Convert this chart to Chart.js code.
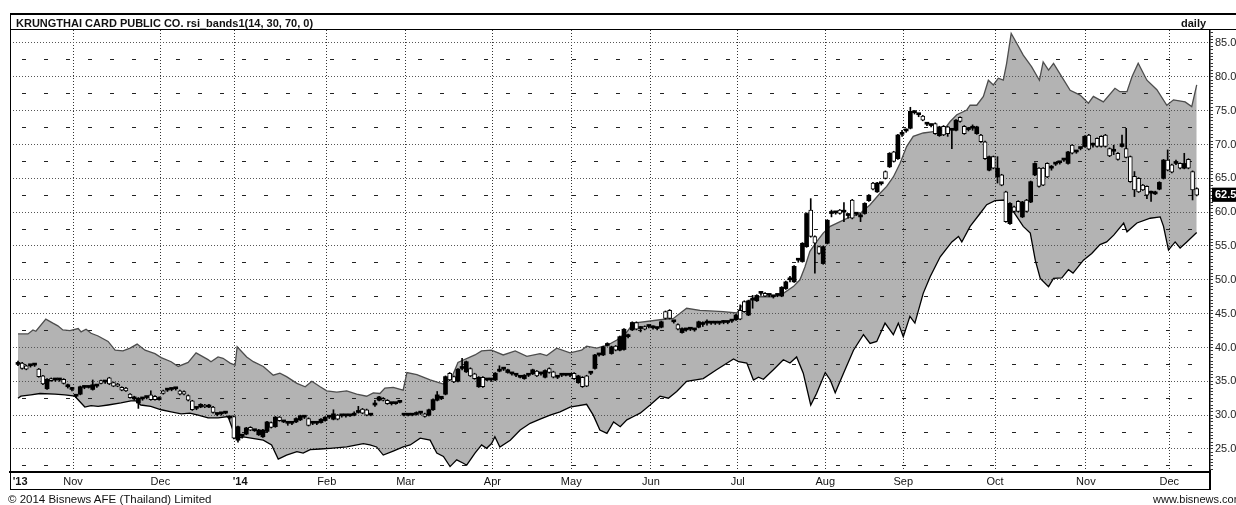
<!DOCTYPE html>
<html>
<head>
<meta charset="utf-8">
<script src="https://cdn.jsdelivr.net/npm/chart.js@4/dist/chart.umd.min.js"></script>
<style>
    body { margin: 0; background: #fff; font-family: "Liberation Sans", Arial, sans-serif; }
    #wrap { position: relative; width: 1236px; height: 505px; overflow: hidden; }
    #rsiChart { position: absolute; left: 0; top: 0; }
    .ln { position: absolute; background: #000; }
    .txt { position: absolute; font-size: 11px; line-height: 14px; color: #111; white-space: nowrap; }
</style>
</head>
<body>
<div id="wrap">
    <canvas id="rsiChart" width="1236" height="505"></canvas>
    <div class="ln" style="left:10px;top:13px;width:1226px;height:2px"></div>
    <div class="ln" style="left:10px;top:13px;width:1px;height:477px"></div>
    <div class="ln" style="left:10px;top:29px;width:1226px;height:1px"></div>
    <div class="ln" style="left:10px;top:489px;width:1201px;height:1px"></div>
    <div class="ln" style="left:1209px;top:470px;width:2px;height:20px"></div>
    <div class="txt" style="left:16px;top:16px;font-weight:bold">KRUNGTHAI CARD PUBLIC CO. rsi_bands1(14, 30, 70, 0)</div>
    <div class="txt" style="left:1181px;top:16px;font-weight:bold">daily</div>
    <div class="txt" style="left:8px;top:492px;font-size:11.5px">© 2014 Bisnews AFE (Thailand) Limited</div>
    <div class="txt" style="left:1153px;top:492px;font-size:11px">www.bisnews.com</div>
</div>
<script>
// month grid positions, in trading-day index
const monthTickPos = [0.5, 13.25, 34.3, 52.05, 74.4, 93.4, 114.3, 133.3, 152.5, 173.4, 194.5, 213.3, 235.4, 257.3, 277.4];
const monthTickLabels = ["'13", 'Nov', 'Dec', "    '14", 'Feb', 'Mar', 'Apr', 'May', 'Jun', 'Jul', 'Aug', 'Sep', 'Oct', 'Nov', 'Dec'];

const yMin = 21.6;
const yMax = 86.92;
const lastPrice = 62.5;

// rsi band, upper edge
const upperDays = [0, 2.4, 3.6, 4.3, 6.7, 8.4, 9.6, 10.8, 12.5, 14.5, 15.2, 16.4, 17.6, 19.3, 21.7, 23.4, 25.3, 27.0, 28.7, 30.6,
    33.0, 34.5, 36.9, 38.6, 41.0, 42.9, 45.8, 46.5, 48.2, 49.4, 51.1, 52.3, 52.8, 55.1, 56.7, 59.1, 61.5, 63.1, 64.7, 67.2,
    69.2, 70.8, 72.8, 74.4, 76.8, 79.2, 81.6, 84.0, 85.6, 87.2, 88.4, 90.4, 92.8, 93.7, 96.1, 99.3, 102.5, 104.8, 106.0, 110.1,
    111.7, 114.1, 116.9, 119.8, 122.6, 125.8, 127.4, 129.8, 133.0, 135.8, 137.0, 139.4, 141.9, 144.3, 146.7, 148.3, 154.7, 157.9, 161.1, 164.3,
    166.7, 169.9, 173.2, 174.8, 178.0, 182.0, 184.4, 186.8, 188.4, 189.6, 190.8, 192.4, 194.0, 195.7, 198.1, 200.5, 202.9, 205.3, 207.7, 209.3,
    210.9, 212.5, 214.1, 215.7, 218.1, 220.6, 223.0, 224.6, 226.2, 228.6, 229.4, 231.0, 232.6, 233.8, 235.0, 236.2, 237.4, 238.2, 239.3, 240.6,
    242.2, 244.2, 246.1, 247.0, 248.3, 249.5, 251.5, 253.5, 255.9, 257.9, 259.1, 261.5, 264.3, 265.5, 267.2, 268.4, 269.9, 272.0, 274.4, 276.8,
    278.4, 281.2, 282.8, 284];
const upperVals = [42.0, 42.0, 42.6, 42.4, 44.2, 43.6, 43.2, 42.6, 42.5, 42.8, 42.3, 42.7, 42.1, 41.7, 40.9, 39.6, 39.5, 39.9, 40.5, 39.6,
    39.1, 38.5, 37.9, 37.2, 37.8, 39.2, 38.2, 37.9, 38.6, 38.4, 37.7, 37.4, 40.1, 38.6, 37.9, 37.2, 35.9, 36.2, 35.7, 34.7,
    34.2, 35.0, 34.2, 33.6, 33.4, 33.6, 33.1, 32.8, 33.3, 33.2, 34.0, 34.1, 33.7, 36.3, 36.0, 35.2, 34.6, 36.0, 37.8, 38.9,
    39.5, 39.6, 38.9, 39.5, 38.7, 39.1, 38.8, 39.9, 39.2, 39.6, 40.2, 39.9, 40.3, 41.1, 42.3, 43.6, 44.1, 44.3, 45.8, 45.5,
    45.4, 45.3, 45.1, 46.5, 47.5, 47.5, 48.0, 49.0, 50.0, 51.9, 54.2, 55.6, 56.9, 57.9, 58.6, 59.3, 59.8, 61.1, 62.8, 63.8,
    65.2, 67.2, 69.7, 71.2, 71.7, 71.9, 72.1, 73.4, 74.4, 75.1, 75.8, 75.8, 77.1, 79.5, 78.8, 79.8, 79.5, 82.0, 86.4, 85.0,
    83.2, 81.5, 79.5, 82.2, 81.0, 82.0, 80.0, 78.0, 77.3, 76.1, 77.1, 76.3, 78.3, 77.8, 77.8, 80.0, 82.0, 79.5, 78.1, 75.8,
    76.6, 76.3, 75.6, 78.8];

// rsi band, lower edge
const lowerDays = [0, 0.7, 3.1, 5.3, 8.9, 11.3, 13.7, 16.1, 17.6, 19.3, 21.7, 24.8, 27.2, 28.4, 29.6, 32.0, 34.5, 36.9, 39.3, 41.4,
    43.4, 45.8, 48.2, 50.6, 52.5, 54.3, 59.1, 61.1, 62.7, 64.7, 67.2, 68.7, 70.4, 72.8, 75.2, 79.2, 83.2, 84.8, 86.4, 88.0,
    90.4, 92.8, 94.5, 96.9, 99.3, 100.9, 102.5, 104.1, 105.7, 107.3, 108.1, 110.1, 111.7, 112.9, 114.1, 114.9, 116.1, 118.6, 121.0, 123.4,
    125.8, 128.2, 130.6, 133.0, 137.0, 138.6, 140.2, 141.9, 143.5, 145.1, 146.7, 148.3, 149.9, 152.3, 154.7, 156.7, 158.7, 161.1, 165.1, 168.3,
    172.4, 173.6, 175.6, 177.2, 178.4, 179.6, 182.0, 184.4, 186.0, 187.6, 189.2, 191.0, 192.4, 194.5, 195.7, 196.9, 198.9, 201.3, 203.7, 205.3,
    206.9, 208.9, 210.9, 212.1, 213.3, 214.9, 216.1, 218.1, 219.8, 222.2, 225.0, 226.6, 227.4, 229.4, 231.8, 233.4, 235.4, 237.8, 239.8, 242.2,
    243.9, 245.1, 246.3, 248.3, 249.5, 251.5, 253.1, 254.2, 256.7, 258.7, 260.7, 262.3, 264.0, 266.4, 267.2, 269.6, 272.8, 275.2, 276.0, 277.2,
    278.8, 280.0, 281.6, 284];
const lowerVals = [32.5, 32.8, 33.0, 33.2, 33.1, 33.0, 32.8, 31.2, 31.4, 31.3, 31.5, 31.8, 32.1, 32.1, 31.5, 31.3, 30.8, 30.5, 30.2, 30.3,
    30.0, 29.6, 29.6, 29.8, 26.6, 26.8, 26.3, 25.6, 23.5, 24.1, 24.6, 24.4, 24.9, 25.0, 25.1, 25.3, 25.8, 25.6, 25.3, 24.1,
    24.7, 25.3, 25.6, 26.6, 26.3, 24.4, 23.9, 22.4, 23.4, 22.9, 22.6, 24.4, 25.6, 25.1, 25.8, 26.8, 25.3, 26.3, 27.8, 28.8,
    29.4, 30.0, 30.5, 31.2, 31.6, 30.0, 27.8, 27.3, 29.0, 28.3, 29.3, 29.8, 30.3, 31.5, 32.8, 32.5, 33.5, 35.0, 35.4, 36.7,
    38.3, 37.9, 37.7, 35.2, 35.6, 35.3, 36.7, 38.2, 37.7, 38.6, 36.2, 31.5, 33.2, 36.3, 35.2, 33.3, 36.2, 39.6, 41.9, 40.6,
    40.9, 43.6, 41.9, 43.6, 41.6, 44.6, 43.6, 48.0, 50.5, 53.4, 55.6, 56.4, 55.6, 57.9, 59.8, 61.1, 61.7, 61.8, 60.1, 57.9,
    56.9, 52.9, 50.2, 49.0, 50.2, 50.3, 51.5, 51.0, 52.9, 53.9, 55.2, 55.6, 56.6, 58.4, 57.1, 58.4, 59.1, 59.3, 57.9, 54.4,
    55.6, 54.7, 55.6, 57.0];

// daily candles, one per trading day
const opens = [37.8, 36.9, 36.8, 37.3, 37.4, 35.7, 34.6, 35.3, 35.1, 35.2, 35.2, 34.7, 34.5, 34.0, 32.8, 34.2, 34.1, 34.2, 34.5, 34.3,
    34.7, 34.9, 34.6, 34.3, 34.3, 33.7, 33.6, 32.6, 32.7, 32.5, 32.4, 32.6, 32.3, 32.3, 32.6, 33.2, 33.7, 33.8, 33.9, 33.1,
    33.1, 32.2, 30.8, 31.0, 31.6, 31.2, 31.5, 30.4, 30.1, 30.2, 30.3, 29.6, 26.6, 28.3, 26.9, 28.1, 27.8, 27.7, 27.8, 27.8,
    29.0, 28.2, 29.7, 29.2, 29.0, 28.8, 28.8, 29.5, 29.9, 29.7, 28.5, 28.8, 28.8, 29.4, 29.7, 29.7, 30.2, 29.4, 29.9, 29.9,
    29.9, 30.0, 30.4, 30.3, 30.0, 30.0, 31.5, 32.7, 32.2, 31.7, 31.7, 31.7, 32.1, 30.0, 30.0, 30.0, 30.1, 30.3, 29.8, 30.8,
    32.3, 33.0, 32.5, 35.7, 35.2, 34.9, 36.8, 36.9, 37.9, 35.8, 35.4, 35.6, 34.2, 35.2, 35.2, 36.2, 36.5, 36.8, 36.7, 36.1,
    35.9, 35.6, 35.9, 35.9, 36.7, 35.8, 36.1, 36.6, 36.3, 35.6, 35.6, 35.9, 35.9, 35.9, 35.4, 35.8, 34.2, 34.3, 36.2, 38.9,
    38.9, 40.1, 40.3, 40.1, 39.6, 41.6, 42.7, 41.6, 43.7, 42.7, 42.8, 42.7, 43.1, 42.9, 42.8, 43.8, 44.3, 44.3, 43.8, 42.7,
    42.8, 42.6, 42.7, 42.6, 43.8, 43.4, 43.6, 43.6, 43.6, 43.6, 43.7, 43.7, 43.9, 44.8, 44.2, 45.3, 46.9, 47.0, 47.7, 48.0,
    47.6, 47.7, 47.5, 47.7, 48.9, 49.7, 50.0, 52.0, 52.9, 55.4, 59.8, 56.4, 55.4, 53.9, 54.9, 58.8, 59.8, 59.9, 59.8, 60.0,
    59.5, 59.1, 59.7, 59.3, 61.3, 62.5, 63.4, 64.3, 64.2, 65.0, 68.7, 67.5, 71.4, 71.5, 72.0, 74.9, 74.7, 74.4, 73.6, 73.0,
    72.8, 71.6, 72.6, 71.4, 71.6, 72.1, 73.6, 73.4, 71.6, 72.2, 72.4, 72.6, 70.4, 67.9, 68.2, 66.5, 66.5, 64.0, 58.6, 61.3,
    60.1, 60.1, 61.5, 60.1, 64.5, 67.2, 63.8, 64.0, 65.2, 66.5, 67.1, 67.3, 67.7, 68.9, 68.7, 68.9, 69.4, 71.2, 69.3, 69.9,
    69.7, 69.7, 69.7, 68.3, 69.0, 67.8, 70.1, 68.1, 64.5, 63.3, 63.0, 63.3, 62.5, 63.0, 63.0, 64.4, 67.7, 66.2, 65.9, 67.2,
    66.5, 67.2, 66.5, 63.3, 62.5];
const closes = [37.5, 37.7, 37.3, 37.3, 37.4, 36.8, 35.8, 33.9, 35.4, 35.2, 35.2, 35.3, 34.2, 33.8, 32.8, 33.1, 34.1, 34.1, 33.8, 34.3,
    35.1, 34.9, 35.5, 34.8, 34.6, 34.1, 34.0, 33.1, 32.4, 31.8, 32.4, 32.6, 33.0, 32.8, 32.3, 33.6, 33.7, 33.8, 33.9, 33.6,
    33.5, 32.9, 32.1, 31.0, 31.2, 31.5, 31.2, 31.2, 30.1, 30.2, 30.3, 29.6, 29.8, 26.3, 26.9, 27.2, 28.2, 27.7, 27.1, 26.8,
    27.6, 28.9, 28.3, 29.7, 29.0, 28.8, 28.8, 29.0, 29.3, 29.7, 29.5, 28.8, 28.8, 28.9, 29.2, 29.7, 29.4, 30.0, 29.9, 29.9,
    29.9, 30.0, 30.4, 30.9, 30.8, 30.0, 31.5, 32.2, 32.5, 32.2, 31.7, 31.7, 31.9, 30.0, 30.0, 30.0, 30.1, 30.3, 30.2, 30.0,
    30.8, 32.2, 32.5, 33.1, 36.2, 35.7, 35.0, 36.9, 36.4, 36.9, 36.1, 34.2, 35.6, 35.2, 35.2, 35.2, 36.5, 36.8, 36.3, 36.1,
    35.9, 35.6, 35.4, 35.9, 36.1, 36.5, 36.1, 35.6, 36.9, 36.4, 35.6, 35.9, 35.9, 35.9, 36.2, 34.8, 35.6, 35.8, 36.2, 36.9,
    38.9, 38.9, 40.3, 39.1, 40.2, 39.6, 39.7, 41.6, 42.6, 43.7, 42.8, 43.1, 43.1, 42.9, 42.8, 43.0, 45.3, 45.5, 43.8, 43.4,
    42.2, 42.6, 42.7, 42.6, 43.0, 43.4, 43.6, 43.6, 43.6, 43.6, 43.7, 43.7, 43.9, 44.1, 45.5, 46.8, 44.8, 47.0, 46.9, 48.0,
    48.0, 47.7, 47.5, 47.7, 47.6, 48.7, 50.0, 49.7, 52.9, 52.7, 54.9, 60.3, 56.4, 54.9, 52.4, 55.4, 59.8, 59.9, 60.3, 60.0,
    59.5, 61.8, 59.7, 59.3, 59.8, 61.7, 64.3, 63.0, 64.2, 66.0, 66.7, 68.9, 67.9, 71.5, 72.0, 72.4, 74.7, 74.4, 74.2, 73.0,
    72.8, 73.1, 71.3, 72.7, 72.6, 72.1, 72.1, 74.0, 72.7, 72.2, 72.4, 71.6, 71.4, 70.4, 66.2, 68.2, 65.2, 65.5, 63.0, 58.3,
    60.8, 61.6, 59.3, 61.8, 61.5, 65.5, 66.5, 66.5, 67.2, 66.5, 67.1, 67.3, 67.7, 67.2, 69.9, 68.9, 69.4, 69.7, 71.4, 69.9,
    70.9, 71.2, 71.4, 69.4, 69.0, 68.7, 69.7, 69.4, 68.2, 65.3, 65.0, 64.0, 63.8, 62.8, 62.7, 63.4, 65.0, 67.7, 67.0, 67.2,
    67.2, 66.5, 67.8, 66.0, 63.5];
const highs = [38.0, 37.8, 37.4, 37.5, 37.6, 36.9, 35.9, 35.4, 35.5, 35.4, 35.3, 35.4, 34.6, 34.1, 33.0, 34.3, 34.3, 34.3, 35.2, 34.5,
    35.2, 35.1, 35.6, 34.9, 34.7, 34.2, 34.1, 33.2, 32.8, 32.6, 32.6, 32.8, 33.6, 32.9, 32.7, 33.7, 33.9, 34.0, 34.0, 33.7,
    33.6, 33.0, 32.2, 31.2, 31.7, 31.6, 31.6, 31.3, 30.3, 30.4, 30.5, 29.8, 29.9, 28.4, 27.1, 28.2, 28.3, 27.9, 27.9, 27.9,
    29.1, 29.0, 29.8, 29.8, 29.2, 29.0, 29.0, 29.6, 30.0, 29.9, 29.6, 29.0, 29.0, 29.5, 29.8, 29.9, 30.8, 30.1, 30.1, 30.0,
    30.1, 30.5, 31.3, 31.0, 30.9, 30.2, 32.2, 32.8, 32.6, 32.3, 31.9, 31.9, 32.2, 30.2, 30.2, 30.1, 30.5, 30.4, 30.3, 30.9,
    32.4, 33.5, 32.7, 35.8, 36.3, 35.8, 36.9, 38.4, 38.0, 37.0, 36.2, 35.7, 35.7, 35.4, 35.3, 36.3, 37.3, 37.0, 36.8, 36.3,
    36.0, 35.8, 36.0, 36.1, 36.8, 36.6, 36.3, 36.7, 37.0, 36.5, 35.8, 36.1, 36.0, 36.1, 36.3, 35.9, 35.7, 35.9, 36.4, 39.0,
    39.1, 40.2, 40.7, 40.2, 40.3, 41.7, 42.8, 42.0, 43.8, 43.8, 43.1, 43.2, 43.3, 43.2, 43.0, 43.9, 45.4, 45.6, 44.0, 43.5,
    42.9, 42.8, 42.9, 42.8, 43.9, 43.8, 44.1, 43.8, 43.8, 43.8, 44.0, 43.9, 44.1, 44.9, 46.3, 46.9, 47.0, 47.7, 47.8, 48.2,
    48.1, 47.9, 47.7, 47.9, 49.0, 49.8, 50.5, 52.1, 53.1, 55.5, 59.9, 62.0, 56.5, 55.0, 55.0, 58.9, 60.3, 60.1, 60.4, 61.4,
    59.8, 61.9, 59.9, 59.8, 61.4, 62.6, 64.4, 64.4, 64.4, 66.1, 68.8, 69.0, 71.5, 72.1, 72.3, 75.5, 75.0, 74.6, 74.3, 73.2,
    73.0, 73.2, 72.7, 72.8, 72.7, 72.3, 73.7, 74.1, 72.8, 72.4, 72.9, 72.7, 71.5, 70.5, 68.3, 68.3, 68.2, 65.6, 63.1, 61.4,
    60.9, 61.7, 61.6, 61.9, 64.6, 67.3, 66.6, 66.6, 67.3, 66.9, 67.3, 67.5, 67.9, 69.0, 70.0, 69.1, 69.6, 71.3, 71.5, 70.2,
    71.0, 71.3, 71.5, 69.5, 69.9, 68.8, 71.4, 72.4, 68.3, 66.0, 65.1, 64.1, 63.9, 63.1, 63.1, 64.5, 67.8, 69.2, 67.1, 67.7,
    67.3, 68.7, 67.9, 66.1, 63.6];
const lows = [37.3, 36.8, 36.7, 37.1, 37.2, 35.6, 34.5, 33.8, 35.0, 35.0, 35.0, 34.6, 34.0, 33.6, 32.6, 33.0, 33.9, 34.0, 33.7, 34.1,
    34.6, 34.7, 34.5, 34.2, 34.2, 33.6, 33.5, 32.5, 32.2, 31.0, 32.2, 32.4, 32.2, 32.2, 32.2, 33.1, 33.5, 33.6, 33.7, 33.0,
    33.0, 32.1, 30.7, 30.8, 31.1, 31.1, 31.1, 30.3, 29.9, 30.0, 30.2, 29.4, 26.5, 26.0, 26.6, 27.1, 27.7, 27.6, 27.0, 26.7,
    27.5, 28.1, 28.2, 29.1, 28.9, 28.5, 28.6, 28.9, 29.2, 29.5, 28.4, 28.6, 28.6, 28.8, 29.1, 29.5, 29.3, 29.3, 29.7, 29.7,
    29.8, 29.9, 30.3, 30.2, 29.9, 29.9, 31.3, 32.1, 32.1, 31.6, 31.5, 31.6, 31.8, 29.9, 29.9, 29.9, 30.0, 30.1, 29.7, 29.9,
    30.7, 32.1, 32.3, 33.0, 35.1, 34.8, 34.9, 36.7, 36.3, 35.7, 35.3, 34.1, 34.1, 35.1, 35.0, 35.1, 36.4, 36.6, 36.2, 35.9,
    35.7, 35.5, 35.3, 35.7, 36.0, 35.7, 35.9, 35.5, 36.2, 35.5, 35.4, 35.7, 35.8, 35.7, 35.3, 34.7, 34.1, 34.2, 36.0, 36.8,
    38.7, 38.8, 40.2, 39.0, 39.5, 39.5, 39.6, 41.4, 42.5, 42.6, 42.3, 42.6, 42.9, 42.7, 42.6, 42.9, 44.2, 44.2, 43.6, 42.6,
    42.1, 42.4, 42.5, 42.4, 42.9, 43.1, 43.3, 43.4, 43.4, 43.4, 43.5, 43.5, 43.7, 44.0, 44.1, 45.2, 44.7, 45.8, 46.8, 47.7,
    47.5, 47.5, 47.3, 47.5, 47.5, 48.6, 49.7, 49.6, 52.6, 52.6, 54.8, 56.3, 51.0, 53.8, 52.3, 55.3, 59.3, 59.7, 59.7, 58.6,
    59.1, 59.0, 59.5, 58.6, 59.7, 61.6, 63.3, 62.9, 64.0, 64.9, 66.6, 67.4, 67.8, 71.2, 71.8, 72.3, 74.5, 74.1, 73.5, 72.8,
    72.6, 71.5, 71.2, 71.3, 71.2, 69.4, 72.0, 73.3, 71.5, 72.0, 72.1, 71.5, 70.3, 67.8, 66.1, 66.4, 64.3, 63.9, 58.5, 58.2,
    60.0, 60.0, 59.2, 60.0, 61.4, 65.4, 63.7, 63.9, 65.1, 66.2, 66.9, 67.1, 67.5, 67.1, 68.6, 68.7, 69.2, 69.6, 69.2, 69.6,
    69.6, 69.6, 69.6, 68.2, 68.5, 67.7, 69.6, 68.0, 64.4, 62.3, 62.9, 63.2, 62.0, 61.6, 62.6, 63.3, 64.9, 66.1, 65.8, 67.0,
    66.4, 66.4, 66.4, 61.8, 62.4];

const FONT = '"Liberation Sans", Arial, sans-serif';

function isHollow(i) {
    return closes[i] - opens[i] > 0.15;
}

document.addEventListener('DOMContentLoaded', function () {
    const ctx = document.getElementById('rsiChart');

    const yTicks = [];
    for (let k = 44; k <= 173; k++) yTicks.push(k / 2);

    const config = {
        type: 'bar',
        data: {
            datasets: [
                {
                    type: 'line',
                    label: 'upper',
                    order: 3,
                    data: upperDays.map((d, i) => ({ x: d, y: upperVals[i] })),
                    borderColor: '#4d4d4d',
                    borderWidth: 1.3,
                    backgroundColor: '#b3b3b3',
                    fill: '+1',
                    pointRadius: 0,
                    tension: 0
                },
                {
                    type: 'line',
                    label: 'lower',
                    order: 2,
                    data: lowerDays.map((d, i) => ({ x: d, y: lowerVals[i] })),
                    borderColor: '#000',
                    borderWidth: 1.3,
                    fill: false,
                    pointRadius: 0,
                    tension: 0
                },
                {
                    label: 'wick',
                    order: 1,
                    data: lows.map((l, i) => ({ x: i, y: [l, highs[i]] })),
                    barThickness: 1,
                    grouped: false,
                    backgroundColor: '#000',
                    borderWidth: 0
                },
                {
                    label: 'body',
                    order: 0,
                    data: opens.map((o, i) => ({ x: i, y: [o, closes[i]] })),
                    barThickness: 4,
                    minBarLength: 2,
                    grouped: false,
                    borderSkipped: false,
                    borderColor: '#000',
                    borderWidth: function (c) {
                        return c.dataIndex !== undefined && isHollow(c.dataIndex) ? 1 : 0;
                    },
                    backgroundColor: function (c) {
                        return c.dataIndex !== undefined && isHollow(c.dataIndex) ? '#fff' : '#000';
                    }
                }
            ]
        },
        options: {
            responsive: false,
            animation: false,
            events: [],
            layout: {
                padding: { left: 10, top: 30, right: 0, bottom: 15 }
            },
            plugins: {
                legend: { display: false },
                tooltip: { enabled: false },
                filler: { drawTime: 'beforeDraw' }
            },
            scales: {
                x: {
                    type: 'linear',
                    min: -1.93,
                    max: 287.2,
                    offset: false,
                    afterBuildTicks: function (scale) {
                        scale.ticks = monthTickPos.map(v => ({ value: v }));
                    },
                    afterFit: function (scale) {
                        scale.height = 18;
                    },
                    grid: {
                        offset: false,
                        drawTicks: false,
                        lineWidth: 1,
                        color: function (c) {
                            return c.index === 0 ? 'rgba(0,0,0,0)' : '#333';
                        }
                    },
                    border: {
                        display: true,
                        color: '#000',
                        width: 2,
                        dash: [1, 2]
                    },
                    ticks: {
                        autoSkip: false,
                        maxRotation: 0,
                        padding: 3,
                        color: '#111',
                        font: function (c) {
                            const lbl = monthTickLabels[c.index] || '';
                            return { family: FONT, size: 11, weight: lbl.indexOf("'") >= 0 ? 'bold' : 'normal' };
                        },
                        callback: function (value, index) {
                            return monthTickLabels[index];
                        }
                    }
                },
                y: {
                    type: 'linear',
                    position: 'right',
                    min: yMin,
                    max: yMax,
                    afterBuildTicks: function (scale) {
                        scale.ticks = yTicks.map(v => ({ value: v }));
                    },
                    afterFit: function (scale) {
                        scale.width = 26;
                    },
                    grid: {
                        drawTicks: true,
                        tickLength: 3,
                        tickWidth: 1,
                        tickColor: '#333',
                        lineWidth: 1,
                        color: function (c) {
                            const v = c.tick ? c.tick.value : 0;
                            if (v % 5 === 0) return '#555';
                            if (v % 2.5 === 0) return '#222';
                            return 'rgba(0,0,0,0)';
                        }
                    },
                    border: {
                        display: true,
                        color: '#000',
                        width: 1.5,
                        dash: function (c) {
                            return c.tick && c.tick.value % 5 === 0 ? [1, 2] : [4, 18];
                        },
                        dashOffset: function (c) {
                            return c.tick && c.tick.value % 5 === 0 ? 0 : 10;
                        }
                    },
                    ticks: {
                        autoSkip: false,
                        padding: 2,
                        color: function (c) {
                            return c.tick && c.tick.value === lastPrice ? '#fff' : '#222';
                        },
                        font: function (c) {
                            const last = c.tick && c.tick.value === lastPrice;
                            return { family: FONT, size: 11, weight: last ? 'bold' : 'normal' };
                        },
                        showLabelBackdrop: function (c) {
                            return !!(c.tick && c.tick.value === lastPrice);
                        },
                        backdropColor: '#000',
                        backdropPadding: { left: 3, right: 8, top: 1, bottom: 0 },
                        callback: function (value) {
                            if (value === lastPrice) return lastPrice.toFixed(1);
                            return value % 5 === 0 ? value.toFixed(1) : '';
                        }
                    }
                }
            }
        }
    };

    new Chart(ctx, config);
});
</script>
</body>
</html>
